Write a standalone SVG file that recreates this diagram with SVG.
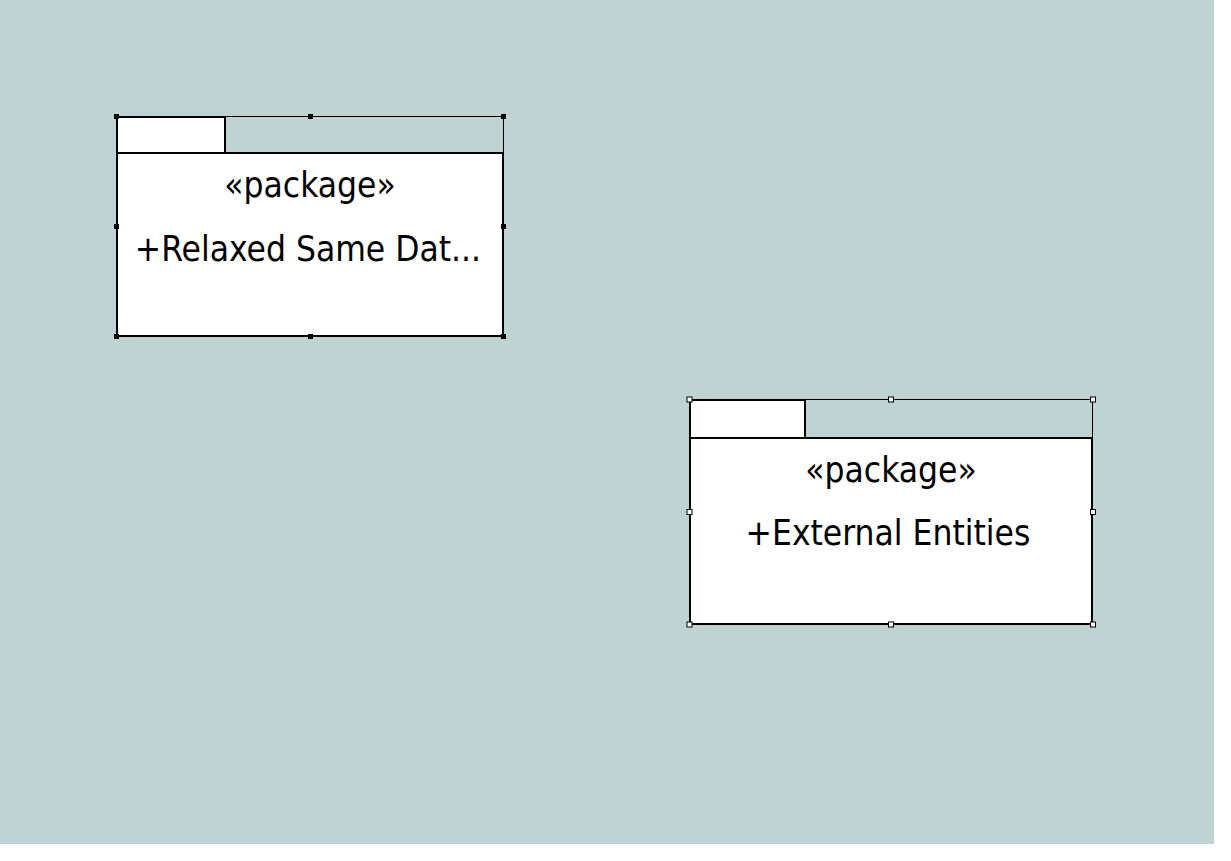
<svg xmlns="http://www.w3.org/2000/svg" width="1231" height="861" viewBox="0 0 1231 861">
  <style>
    .canvas { fill: #bfd3d2; }
    .pkg { fill: #ffffff; stroke: #000000; stroke-width: 2; }
    .sel { fill: none; stroke: #000000; stroke-width: 1; }
    .h-dark { fill: #000000; stroke: #000000; stroke-width: 1; }
    .h-light { fill: #ffffff; stroke: #000000; stroke-width: 1; }
    .lbl { font-family: "DejaVu Sans Condensed", "DejaVu Sans", sans-serif; font-stretch: condensed; font-size: 35px; fill: #000000; text-anchor: middle; }
  </style>
  <rect x="0" y="0" width="1231" height="861" fill="#ffffff"/>
  <rect class="canvas" x="0" y="0" width="1214" height="844"/>

  <g id="connectors"></g>

  <!-- package: Relaxed Same Data (selected) -->
  <g id="pkg-relaxed">
    <rect class="sel" x="116.5" y="116.5" width="387" height="220"/>
    <rect class="pkg" x="117" y="117" width="108" height="36"/>
    <rect class="pkg" x="117" y="153" width="386" height="183"/>
    <text class="lbl" x="310" y="197">«package»</text>
    <text class="lbl" x="308" y="261">+Relaxed Same Dat...</text>
    <rect class="h-dark" x="114.5" y="114.5" width="4" height="4"/>
    <rect class="h-dark" x="308.5" y="114.5" width="4" height="4"/>
    <rect class="h-dark" x="501.5" y="114.5" width="4" height="4"/>
    <rect class="h-dark" x="114.5" y="224.5" width="4" height="4"/>
    <rect class="h-dark" x="501.5" y="224.5" width="4" height="4"/>
    <rect class="h-dark" x="114.5" y="334.5" width="4" height="4"/>
    <rect class="h-dark" x="308.5" y="334.5" width="4" height="4"/>
    <rect class="h-dark" x="501.5" y="334.5" width="4" height="4"/>
  </g>

  <!-- package: External Entities (selected) -->
  <g id="pkg-external">
    <rect class="sel" x="689.5" y="399.5" width="403" height="225"/>
    <rect class="pkg" x="690" y="400" width="115" height="38"/>
    <rect class="pkg" x="690" y="438" width="402" height="186"/>
    <text class="lbl" x="891" y="482">«package»</text>
    <text class="lbl" x="888" y="545">+External Entities</text>
    <rect class="h-light" x="687" y="397" width="5" height="5"/>
    <rect class="h-light" x="888.5" y="397" width="5" height="5"/>
    <rect class="h-light" x="1090.5" y="397" width="5" height="5"/>
    <rect class="h-light" x="687" y="509.5" width="5" height="5"/>
    <rect class="h-light" x="1090.5" y="509.5" width="5" height="5"/>
    <rect class="h-light" x="687" y="622" width="5" height="5"/>
    <rect class="h-light" x="888.5" y="622" width="5" height="5"/>
    <rect class="h-light" x="1090.5" y="622" width="5" height="5"/>
  </g>
</svg>
